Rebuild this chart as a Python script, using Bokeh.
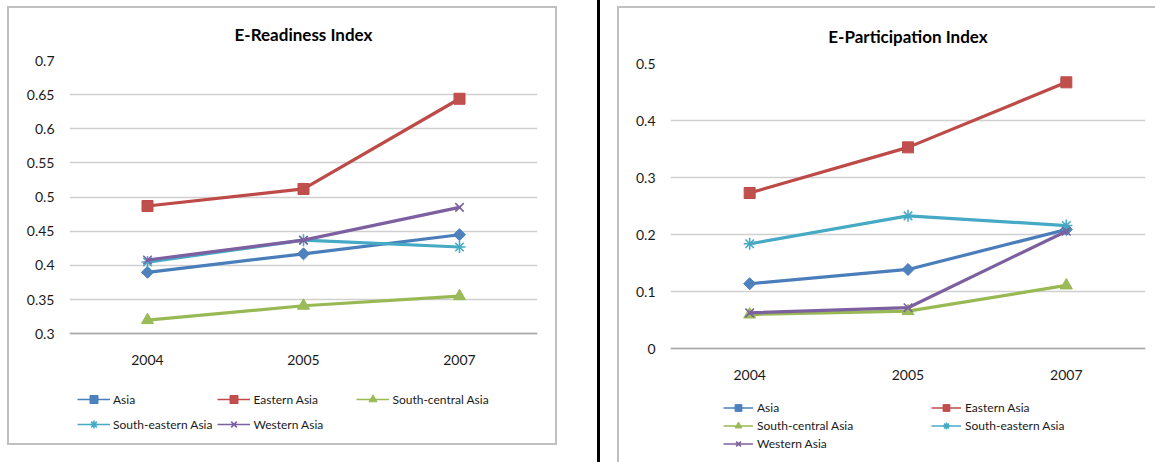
import math
from bokeh.plotting import figure
from bokeh.layouts import row
from bokeh.models import (FactorRange, Range1d, FixedTicker, Legend, LegendItem, Div)
from bokeh.embed import file_html
from bokeh.resources import INLINE

# ---------------- data ----------------
years = ["2004", "2005", "2007"]
series_names = ["Asia", "Eastern Asia", "South-central Asia", "South-eastern Asia", "Western Asia"]

readiness_asia = [0.390, 0.417, 0.445]
readiness_eastern = [0.487, 0.512, 0.644]
readiness_south_central = [0.320, 0.341, 0.355]
readiness_south_eastern = [0.405, 0.437, 0.427]
readiness_western = [0.408, 0.437, 0.485]

participation_asia = [0.114, 0.139, 0.209]
participation_eastern = [0.273, 0.353, 0.467]
participation_south_central = [0.060, 0.066, 0.111]
participation_south_eastern = [0.184, 0.233, 0.216]
participation_western = [0.063, 0.072, 0.206]

readiness_ticks = [0.3, 0.35, 0.4, 0.45, 0.5, 0.55, 0.6, 0.65, 0.7]
readiness_tick_labels = ["0.3", "0.35", "0.4", "0.45", "0.5", "0.55", "0.6", "0.65", "0.7"]
participation_ticks = [0.0, 0.1, 0.2, 0.3, 0.4, 0.5]
participation_tick_labels = ["0", "0.1", "0.2", "0.3", "0.4", "0.5"]

readiness_title = "E-Readiness Index"
participation_title = "E-Participation Index"

# ---------------- styles ----------------
colors = ["#4A7EBB", "#BE4B48", "#98B954", "#46AAC5", "#7D60A0"]
fills = ["#4F81BD", "#C0504D", "#9BBB59", "#4BACC6", "#8064A2"]
markers = [
    dict(marker="square", size=8.5, angle=math.pi / 4, line_width=1),
    dict(marker="square", size=11, angle=0, line_width=1),
    dict(marker="triangle", size=12, angle=0, line_width=1),
    dict(marker="asterisk", size=12, angle=0, line_width=1.6),
    dict(marker="x", size=12, angle=0, line_width=1.6),
]
FONT = "Lato"
GRID = "#d0d0d0"
AXIS = "#a8a8a8"
BOX = "#c0c0c0"


def build(values, ticks, tick_labels, y0, y1, width, height, borders, axis_px, title,
          title_cfg, legend_cfg, margin, box_css):
    # borders: min borders (left, right, top, bottom); axis_px: pixel height of the
    # y0..y1 span; the frame extends below y0 to leave room for the legend.
    bl, br, bt, bb = borders
    frame_h = height - bt - bb
    extra = (frame_h - axis_px) * (y1 - y0) / axis_px
    p = figure(width=width, height=height, x_range=FactorRange(*years, range_padding=0),
               y_range=Range1d(y0 - extra, y1), output_backend="svg",
               toolbar_location=None, min_border_left=bl, min_border_right=br,
               min_border_top=bt, min_border_bottom=bb, background_fill_alpha=0,
               border_fill_alpha=0, outline_line_color=None, frame_align=False,
               margin=margin, styles={"box-shadow": box_css})
    p.title.text = title
    p.title.align = "center"
    p.title.offset = title_cfg[0]
    p.title.standoff = title_cfg[1]
    p.title.text_font = FONT
    p.title.text_font_style = "bold"
    p.title.text_font_size = "17px"
    p.title.text_color = "#000000"

    p.xgrid.grid_line_color = None
    p.ygrid.grid_line_color = GRID
    p.ygrid.grid_line_width = 1.3
    p.ygrid.ticker = FixedTicker(ticks=ticks)

    p.yaxis.ticker = FixedTicker(ticks=ticks)
    p.yaxis.major_label_overrides = {t: l for t, l in zip(ticks, tick_labels)}
    p.yaxis.axis_line_color = None
    p.yaxis.major_label_standoff = 15
    p.xaxis.fixed_location = y0
    p.xaxis.axis_line_color = AXIS
    p.xaxis.axis_line_width = 1.5
    p.xaxis.major_label_standoff = 21
    for ax in (p.xaxis, p.yaxis):
        ax.major_tick_line_color = None
        ax.minor_tick_line_color = None
        ax.major_tick_out = 0
        ax.major_tick_in = 0
        ax.minor_tick_out = 0
        ax.minor_tick_in = 0
        ax.major_label_text_font = FONT
        ax.major_label_text_font_size = "14px"
        ax.major_label_text_color = "#1a1a1a"

    items = []
    for name, vals, col, fil, mk in zip(series_names, values, colors, fills, markers):
        p.line(years, vals, line_color=col, line_width=3.2, line_join="round",
               line_cap="round")
        thin = p.line(years, vals, line_color=col, line_width=1.5)
        sc = p.scatter(years, vals, marker=mk["marker"], size=mk["size"], angle=mk["angle"],
                       line_color=col, fill_color=fil, line_width=mk["line_width"])
        items.append(LegendItem(label=name, renderers=[thin, sc]))

    leg = Legend(items=items, orientation="horizontal", ncols=legend_cfg["ncols"],
                 location=legend_cfg["loc"], glyph_width=legend_cfg["gw"],
                 glyph_height=legend_cfg["gh"], label_height=legend_cfg["gh"],
                 label_width=legend_cfg["lw"], label_standoff=legend_cfg["ls"],
                 spacing=legend_cfg["sp"], padding=0, margin=0,
                 border_line_color=None, background_fill_alpha=0,
                 label_text_font=FONT, label_text_font_size="12px",
                 label_text_color="#1a1a1a")
    p.add_layout(leg)
    return p


left = build([readiness_asia, readiness_eastern, readiness_south_central,
              readiness_south_eastern, readiness_western],
             readiness_ticks, readiness_tick_labels, 0.3, 0.7, 550, 439,
             (62, 20, 53, 3), 274, readiness_title, (-21.5, 31),
             dict(ncols=3, loc=(8, 8), gw=33, gh=20, lw=98, ls=3, sp=5),
             (6, 0, 0, 7), "inset 0 0 0 2px " + BOX)

divider = Div(width=3, height=462, margin=(0, 0, 0, 40),
              styles={"background-color": "#000000"})

right = build([participation_asia, participation_eastern, participation_south_central,
               participation_south_eastern, participation_western],
              participation_ticks, participation_tick_labels, 0.0, 0.5, 538, 456,
              (53, 10, 56, 6), 286, participation_title, (-17, 34),
              dict(ncols=2, loc=(53, 4.5), gw=30, gh=17, lw=173, ls=4, sp=1),
              (6, 0, 0, 17), "inset 2px 2px 0 0 " + BOX)

layout = row(left, divider, right)
open("out.html", "w").write(file_html(layout, INLINE))
